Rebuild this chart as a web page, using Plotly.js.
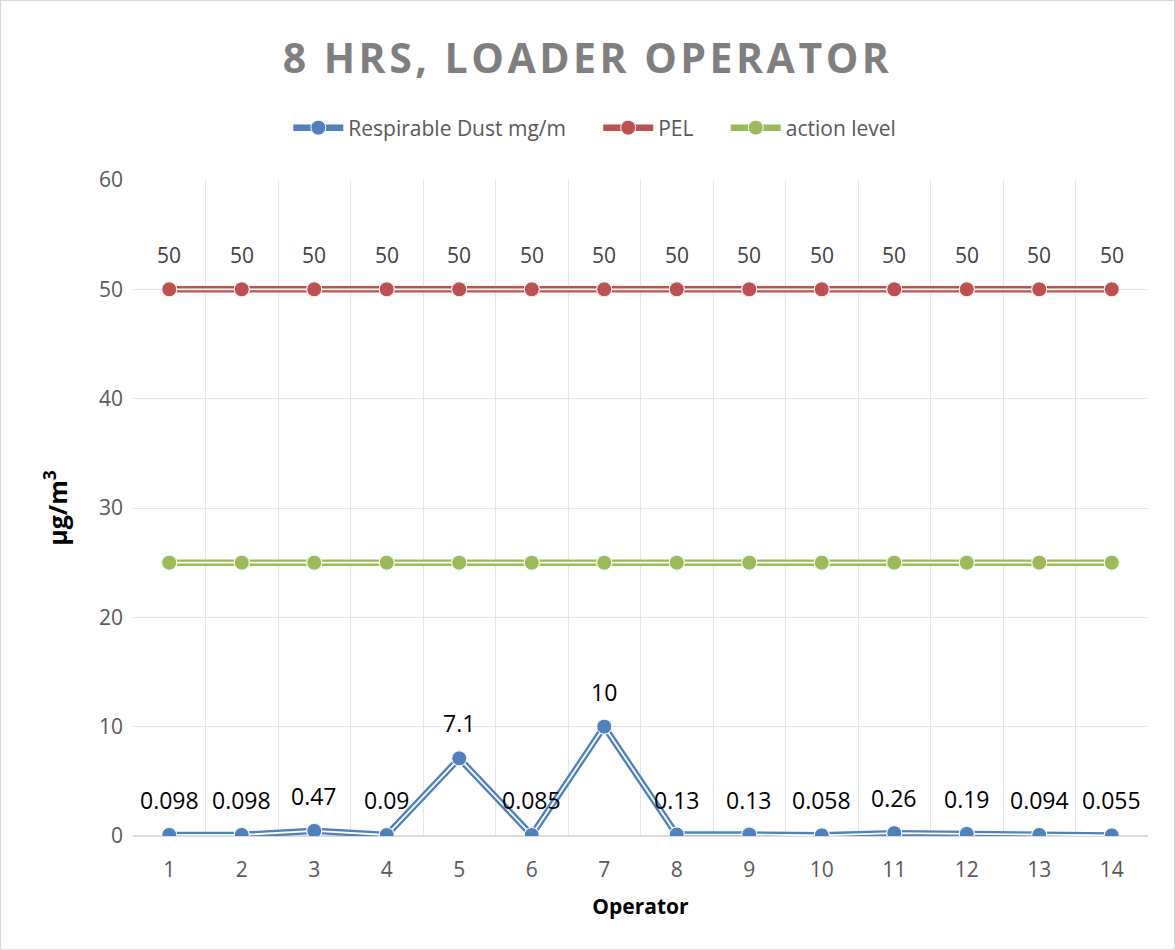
<!DOCTYPE html>
<html>
<head>
<meta charset="utf-8">
<script src="https://cdn.plot.ly/plotly-3.0.1.min.js"></script>
<style>
  html, body { margin: 0; padding: 0; background: #fff; }
  #chart { width: 1173px; height: 948px; border: 1px solid #d9d9d9; }
  #chart .gtitle { letter-spacing: 3.5px; }
</style>
</head>
<body>
<div id="chart"></div>
<script>
const operators = [1, 2, 3, 4, 5, 6, 7, 8, 9, 10, 11, 12, 13, 14];
const respirableDust = [0.098, 0.098, 0.47, 0.09, 7.1, 0.085, 10, 0.13, 0.13, 0.058, 0.26, 0.19, 0.094, 0.055];
const pel = [50, 50, 50, 50, 50, 50, 50, 50, 50, 50, 50, 50, 50, 50];
const actionLevel = [25, 25, 25, 25, 25, 25, 25, 25, 25, 25, 25, 25, 25, 25];
const seriesNames = ['Respirable Dust mg/m', 'PEL', 'action level'];
const seriesColors = ['#4f81bd', '#c0504d', '#9bbb59'];
const yTicks = [0, 10, 20, 30, 40, 50, 60];

const FONT = 'Open Sans, Calibri, sans-serif';
const PAD = '\u00a0\u00a0\u00a0\u00a0\u00a0';
const seriesData = [respirableDust, pel, actionLevel];
const traces = [];
seriesData.forEach((ys, i) => {
  traces.push({
    x: operators, y: ys, type: 'scatter', mode: 'lines+markers',
    name: seriesNames[i] + (i < 2 ? PAD : ''), legendgroup: 'g' + i, showlegend: true,
    line: { color: seriesColors[i], width: 6.5 },
    marker: { color: seriesColors[i], size: 15, line: { color: '#ffffff', width: 1 } },
    hoverinfo: 'skip'
  });
  traces.push({
    x: operators, y: ys, type: 'scatter', mode: 'lines',
    name: seriesNames[i], legendgroup: 'g' + i, showlegend: false,
    line: { color: '#ffffff', width: 1.8 }, hoverinfo: 'skip'
  });
  traces.push({
    x: operators, y: ys, type: 'scatter', mode: 'markers',
    name: seriesNames[i], legendgroup: 'g' + i, showlegend: false,
    marker: { color: seriesColors[i], size: 15, line: { color: '#ffffff', width: 1 } }
  });
});

const annotations = [];
operators.forEach((x, k) => {
  annotations.push({
    x: x, y: respirableDust[k], xref: 'x', yref: 'y', text: String(respirableDust[k]),
    showarrow: false, yshift: 35, font: { family: FONT, size: 23, color: '#000000' }
  });
  annotations.push({
    x: x, y: pel[k], xref: 'x', yref: 'y', text: String(pel[k]),
    showarrow: false, yshift: 34, font: { family: FONT, size: 21, color: '#404040' }
  });
});

const layout = {
  width: 1173, height: 948,
  margin: { l: 132, r: 26, t: 179, b: 113 },
  paper_bgcolor: '#ffffff', plot_bgcolor: '#ffffff',
  font: { family: FONT, color: '#595959' },
  title: {
    text: '<b>8 HRS, LOADER OPERATOR</b>',
    font: { family: FONT, size: 41, color: '#7f7f7f' },
    x: 0.5, xref: 'container', y: 1 - 58 / 948, yref: 'container', yanchor: 'middle'
  },
  showlegend: true,
  legend: {
    orientation: 'h', x: 0.455, xanchor: 'center', y: (835 - 127) / 656, yanchor: 'middle',
    font: { family: FONT, size: 21, color: '#595959' }, itemwidth: 50
  },
  xaxis: {
    range: [0.5, 14.5], tickvals: operators, ticktext: operators.map(String),
    showgrid: false, zeroline: false, showline: false, ticks: '',
    tickfont: { family: FONT, size: 21, color: '#595959' },
    ticklabelstandoff: 19,
    minor: { tick0: 0.5, dtick: 1, showgrid: true, gridcolor: '#e6e6e6', gridwidth: 1, ticks: '' },
    title: { text: '<b>Operator</b>', font: { family: FONT, size: 21, color: '#000000' }, standoff: 17 }
  },
  yaxis: {
    range: [0, 60], tickvals: yTicks, showgrid: true, gridcolor: '#e6e6e6', gridwidth: 1,
    zeroline: true, zerolinecolor: '#d9d9d9', zerolinewidth: 1.5, ticks: '', showline: false,
    tickfont: { family: FONT, size: 21, color: '#595959' }, ticklabelstandoff: 9,
    title: { text: '<b>µg/m<sup>3</sup></b>', font: { family: FONT, size: 25, color: '#000000' }, standoff: 24 }
  },
  annotations: annotations
};

Plotly.newPlot('chart', traces, layout, { displayModeBar: false, staticPlot: true });
</script>
</body>
</html>
